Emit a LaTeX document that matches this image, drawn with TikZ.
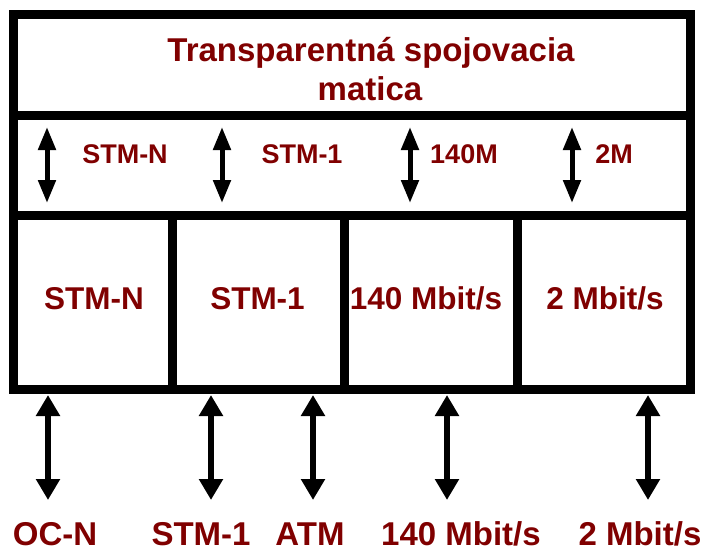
\documentclass[tikz,border=0pt]{standalone}
\usepackage{fontspec}
\setmainfont{Liberation Sans}
\usetikzlibrary{arrows.meta}
\definecolor{dred}{RGB}{128,0,0}
\begin{document}
\begin{tikzpicture}[x=1pt,y=-1pt,
  frame/.style={line width=9pt, line join=miter},
  lbl/.style={text=dred, font=\bfseries\fontsize{33}{40}\selectfont, anchor=base, inner sep=0pt},
  clbl/.style={text=dred, font=\bfseries\fontsize{31.5}{38}\selectfont, anchor=base, inner sep=0pt},
  slbl/.style={text=dred, font=\bfseries\fontsize{27}{32}\selectfont, anchor=base, inner sep=0pt},
  arrA/.style={line width=5pt, {Triangle[length=23pt,width=17pt]}-{Triangle[length=23pt,width=17pt]}},
  arrB/.style={line width=6pt, {Triangle[length=21pt,width=23pt]}-{Triangle[length=21pt,width=23pt]}}]
\useasboundingbox[fill=white] (0,0) rectangle (706,554);
% frame
\draw[frame] (13,14.5) rectangle (690.5,389);
\draw[frame] (13,115) -- (690.5,115);
\draw[frame] (13,215) -- (690.5,215);
\draw[frame] (172,215) -- (172,389);
\draw[frame] (344.5,215) -- (344.5,389);
\draw[frame] (517,215) -- (517,389);
% title
\node[lbl] (t1) at (371,61) {Transparentná spojovacia};
\node[lbl] (t2) at (370,100) {matica};
% row 2
\coordinate (a1t) at (47,127); \coordinate (a1b) at (47,203);
\coordinate (a2t) at (222,127); \coordinate (a2b) at (222,203);
\coordinate (a3t) at (410,127); \coordinate (a3b) at (410,203);
\coordinate (a4t) at (572,127); \coordinate (a4b) at (572,203);
\draw[arrA] (a1t) -- (a1b);
\draw[arrA] (a2t) -- (a2b);
\draw[arrA] (a3t) -- (a3b);
\draw[arrA] (a4t) -- (a4b);
\node[slbl] (r1) at (125,163) {STM-N};
\node[slbl] (r2) at (302,163) {STM-1};
\node[slbl] (r3) at (464,163) {140M};
\node[slbl] (r4) at (614,163) {2M};
% cells
\node[clbl] (c1) at (94,309) {STM-N};
\node[clbl] (c2) at (257.5,309) {STM-1};
\node[clbl] (c3) at (426,309) {140 Mbit/s};
\node[clbl] (c4) at (605,309) {2 Mbit/s};
% bottom arrows
\coordinate (b1t) at (48,395); \coordinate (b1b) at (48,500);
\coordinate (b2t) at (211,395); \coordinate (b2b) at (211,500);
\coordinate (b3t) at (313,395); \coordinate (b3b) at (313,500);
\coordinate (b4t) at (447,395); \coordinate (b4b) at (447,500);
\coordinate (b5t) at (648,395); \coordinate (b5b) at (648,500);
\draw[arrB] (b1t) -- (b1b);
\draw[arrB] (b2t) -- (b2b);
\draw[arrB] (b3t) -- (b3b);
\draw[arrB] (b4t) -- (b4b);
\draw[arrB] (b5t) -- (b5b);
\node[lbl] (l1) at (55,545) {OC-N};
\node[lbl] (l2) at (201,545) {STM-1};
\node[lbl] (l3) at (310,545) {ATM};
\node[lbl] (l4) at (461,545) {140 Mbit/s};
\node[lbl] (l5) at (640,545) {2 Mbit/s};
\end{tikzpicture}
\end{document}
